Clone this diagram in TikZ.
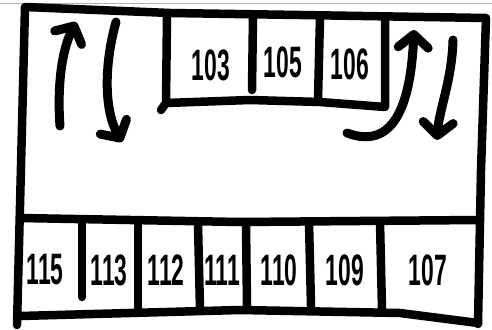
\documentclass[tikz,border=0pt]{standalone}
\usepackage{fontspec}
\setmainfont{Liberation Sans}
\usetikzlibrary{arrows.meta}
\begin{document}
\begin{tikzpicture}[x=1pt,y=-1pt,
  ink/.style={line width=8.5pt,line cap=round,line join=round},
  arr/.style={line width=9pt,line cap=round,-{Straight Barb[length=13pt,width=30pt,round]}},
  lab/.style={font=\bfseries\fontsize{44}{44}\selectfont,xscale=0.52,inner sep=0pt}]
\useasboundingbox (0,0) rectangle (492,329);
\fill[white] (0,0) rectangle (492,329);
\draw[gray!60,line width=0.8pt] (0,3) -- (492,3);
% outer frame
\coordinate (o1) at (25,7);
\coordinate (o2) at (486,18);
\draw[ink] (17,325) -- (o1) -- (170,13) -- (300,15) -- (o2) -- (481,170) -- (478,324);
% top row
\draw[ink] (167,16) -- (166,103) -- (250,100) -- (320,102) -- (385,107) -- (385,20);
\draw[ink] (161,110) -- (166,103);
\draw[ink] (253,16) -- (252,90);
\draw[ink] (320,17) -- (318,100);
\node[lab] (n103) at (211,65) {103};
\node[lab] (n105) at (283,62) {105};
\node[lab] (n106) at (350,64) {106};
% bottom row
\draw[ink] (20,218) -- (240,222) -- (479,220);
\draw[ink] (20,316) -- (240,310) -- (400,313) -- (478,323);
\draw[ink] (82,224) -- (82,297);
\draw[ink] (138,224) -- (138,310);
\draw[ink] (198,224) -- (200,310);
\draw[ink] (246,224) -- (247,306);
\draw[ink] (309,222) -- (311,306);
\draw[ink] (380,222) -- (382,310);
\node[lab] (n115) at (45,270) {115};
\node[lab] (n113) at (109,270) {113};
\node[lab] (n112) at (166,270) {112};
\node[lab] (n111) at (222,270) {111};
\node[lab] (n110) at (279,270) {110};
\node[lab] (n109) at (345,270) {109};
\node[lab] (n107) at (428,270) {107};
% arrows
\coordinate (a1s) at (60,126);
\coordinate (a1e) at (76,22);
\draw[arr] (a1s) .. controls (57,85) and (62,50) .. (a1e);
\coordinate (a2s) at (116,22);
\coordinate (a2e) at (122,142);
\draw[arr] (a2s) .. controls (104,65) and (104,110) .. (a2e);
\coordinate (a3s) at (347,133);
\coordinate (a3e) at (414,30);
\draw[arr] (a3s) .. controls (398,152) and (411,95) .. (a3e);
\coordinate (a4s) at (453,40);
\coordinate (a4e) at (437,140);
\draw[arr] (a4s) .. controls (452,80) and (439,110) .. (a4e);
\end{tikzpicture}
\end{document}
